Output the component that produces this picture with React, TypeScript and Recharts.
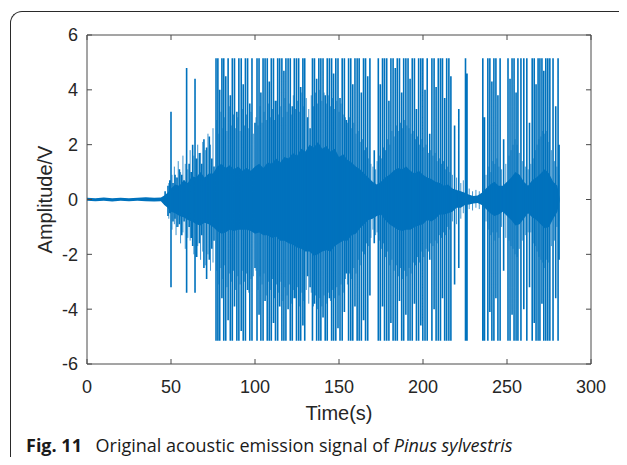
import React from 'react';
import { ComposedChart, Area, Line, XAxis, YAxis } from 'recharts';

const CLIP = 5.15;
const X_TICKS = [0, 50, 100, 150, 200, 250, 300];
const Y_TICKS = [-6, -4, -2, 0, 2, 4, 6];

// dense core of the signal (envelope of the continuous activity)
const coreTimes = [
  0, 5, 10, 15, 20, 25, 30, 35, 40, 44,
  46, 48, 50, 52.5, 55, 57.5, 60, 62.5, 65, 67.5,
  70, 72.5, 75, 77.5, 80, 82.5, 85, 87.5, 90, 92.5,
  95, 97.5, 100, 102.5, 105, 107.5, 110, 112.5, 115, 117.5,
  120, 122.5, 125, 127.5, 130, 132.5, 135, 137.5, 140, 142.5,
  145, 147.5, 150, 152.5, 155, 157.5, 160, 162.5, 165, 167.5,
  170, 172.5, 175, 177.5, 180, 182.5, 185, 187.5, 190, 192.5,
  195, 197.5, 200, 202.5, 205, 207.5, 210, 212.5, 215, 217.5,
  220, 222.5, 225, 227.5, 230, 232.5, 235, 237.5, 240, 242.5,
  245, 247.5, 250, 252.5, 255, 257.5, 260, 262.5, 265, 267.5,
  270, 272.5, 275, 277.5, 280, 281.3,
];
const coreHigh = [
  0.06, 0.05, 0.07, 0.05, 0.06, 0.05, 0.06, 0.08, 0.06, 0.07,
  0.15, 0.25, 0.4, 0.55, 0.5, 0.7, 0.6, 0.85, 0.8, 1.0,
  0.8, 0.95, 0.95, 1.2, 1.3, 1.15, 1.25, 1.1, 1.2, 1.05,
  1.15, 1.05, 1.2, 1.3, 1.15, 1.35, 1.3, 1.5, 1.35, 1.55,
  1.5, 1.7, 1.6, 1.85, 1.75, 2.0, 1.9, 2.1, 1.85, 1.95,
  1.75, 1.85, 1.55, 1.65, 1.45, 1.35, 1.2, 1.1, 0.95, 0.8,
  0.65, 0.55, 0.65, 0.8, 0.9, 1.05, 1.15, 1.1, 1.2, 1.05,
  0.95, 1.05, 0.9, 0.8, 0.75, 0.65, 0.6, 0.5, 0.55, 0.4,
  0.35, 0.3, 0.25, 0.17, 0.13, 0.15, 0.25, 0.4, 0.55, 0.65,
  0.5, 0.5, 0.65, 0.8, 1.0, 0.9, 0.65, 0.5, 0.7, 0.8,
  0.95, 1.1, 0.95, 0.65, 0.5, 0.05,
];
const coreLow = [
  -0.05, -0.06, -0.05, -0.07, -0.05, -0.06, -0.05, -0.06, -0.07, -0.06,
  -0.2, -0.3, -0.45, -0.5, -0.6, -0.65, -0.75, -0.8, -0.9, -0.95,
  -0.85, -0.9, -1.0, -1.15, -1.25, -1.2, -1.1, -1.15, -1.1, -1.1,
  -1.1, -1.15, -1.25, -1.2, -1.3, -1.3, -1.4, -1.35, -1.5, -1.5,
  -1.6, -1.65, -1.75, -1.8, -1.9, -1.9, -2.05, -2.0, -1.9, -1.85,
  -1.9, -1.7, -1.6, -1.5, -1.5, -1.3, -1.25, -1.05, -0.9, -0.75,
  -0.7, -0.6, -0.55, -0.75, -0.9, -1.0, -1.1, -1.15, -1.1, -1.1,
  -1.0, -0.95, -0.9, -0.75, -0.8, -0.7, -0.55, -0.55, -0.5, -0.45,
  -0.3, -0.3, -0.2, -0.18, -0.15, -0.13, -0.2, -0.35, -0.5, -0.6,
  -0.55, -0.45, -0.6, -0.75, -0.95, -0.9, -0.7, -0.5, -0.65, -0.75,
  -0.9, -1.05, -1.0, -0.7, -0.45, -0.05,
];

// large bursts: time, positive peak, negative peak
const spikeTimes = [
  46.5, 48.2, 49.3, 50.0, 51.2, 52.4, 53.6, 55.0, 56.4, 57.8, 59.3, 60.8, 62.0, 62.9, 64.3, 65.3, 66.9, 68.3, 69.6, 71.2, 72.8, 74.3, 75.6,
  76.8, 77.9, 79.0, 80.3, 81.4, 82.6, 84.0, 85.3, 86.5, 87.8, 89.2, 90.4, 91.8, 93.0, 94.3, 95.6, 96.9, 98.2, 100.0,
  101.2, 102.4, 103.5, 104.8, 106.0, 107.3, 108.5, 109.7, 111.0, 112.2, 113.5, 114.7, 116.0, 117.2, 118.4, 119.7, 121.0, 122.2, 123.4, 124.7, 126.0, 127.2, 128.5, 129.6, 131.3, 132.8,
  134.2, 135.4, 136.7, 138.0, 139.2, 140.5, 141.8, 143.0, 144.3, 145.6, 146.8, 148.1, 149.4, 150.6, 151.9, 153.2, 154.4, 155.7, 157.0, 158.2, 159.5, 160.8, 162.0, 163.3, 164.6, 165.8, 167.1, 168.4, 171.0,
  173.4, 174.6, 175.9, 177.1, 178.4, 179.7, 180.9, 182.2, 183.5, 184.7, 186.0, 187.3, 188.5, 189.8, 191.1, 192.3, 193.6, 194.9, 196.1, 197.4, 198.7, 199.9, 201.2, 202.5, 204.0,
  205.3, 206.6, 207.8, 209.1, 210.4, 211.6, 212.9, 214.1, 215.4, 216.6,
  218.8, 221.3, 225.3, 226.2, 235.6, 236.6,
  238.6, 239.8, 241.0, 242.2, 243.4, 244.6, 245.9, 248.0,
  250.6, 251.8, 253.0, 254.2, 255.4, 256.5, 258.3, 260.0, 261.8, 263.4,
  265.0, 266.2, 267.3, 268.5, 269.6, 270.8, 271.9, 273.1, 274.3, 275.5, 277.4, 279.0, 280.4, 281.0,
];
const spikeHighs = [
  0.3, 0.5, 0.7, 3.2, 0.6, 0.9, 0.8, 1.1, 0.9, 0.7, 4.8, 1.3, 1.0, 2.0, 4.4, 1.5, 1.7, 1.3, 2.2, 1.9, 2.3, 1.5, 1.2,
  CLIP, CLIP, 4.0, CLIP, CLIP, 4.5, CLIP, 3.8, CLIP, CLIP, 3.2, CLIP, CLIP, 4.2, CLIP, CLIP, 3.5, CLIP, 2.8,
  CLIP, CLIP, 3.9, CLIP, CLIP, CLIP, 4.3, CLIP, CLIP, 3.6, CLIP, CLIP, CLIP, 4.7, CLIP, CLIP, CLIP, 3.4, CLIP, CLIP, CLIP, 4.1, CLIP, CLIP, 3.0, 2.6,
  CLIP, CLIP, 4.4, CLIP, CLIP, CLIP, 3.8, CLIP, CLIP, CLIP, 4.6, CLIP, CLIP, 3.7, CLIP, CLIP, 2.9, CLIP, CLIP, 4.2, CLIP, CLIP, CLIP, 3.9, CLIP, CLIP, 4.5, CLIP, 1.8,
  CLIP, 4.2, CLIP, CLIP, CLIP, 3.6, CLIP, CLIP, 4.8, CLIP, CLIP, 3.9, CLIP, CLIP, CLIP, 4.4, CLIP, CLIP, 3.3, CLIP, CLIP, CLIP, 4.0, CLIP, 2.4,
  CLIP, CLIP, 4.1, CLIP, CLIP, CLIP, 3.7, CLIP, CLIP, 4.5,
  2.7, 3.3, CLIP, 4.6, CLIP, 3.0,
  CLIP, CLIP, 4.3, CLIP, CLIP, 3.8, CLIP, 2.2,
  CLIP, 4.4, CLIP, CLIP, 3.9, CLIP, CLIP, CLIP, CLIP, 2.8,
  CLIP, CLIP, 4.2, CLIP, CLIP, CLIP, 4.7, CLIP, CLIP, CLIP, CLIP, 3.4, CLIP, 2.0,
];
const spikeLows = [
  -0.2, -0.6, -0.5, -3.2, -0.8, -0.7, -1.0, -0.9, -1.3, -0.8, -3.4, -1.0, -1.4, -1.7, -3.4, -2.1, -1.6, -1.3, -2.5, -2.9, -2.2, -1.8, -1.5,
  -CLIP, -CLIP, -CLIP, -3.6, -CLIP, -CLIP, -4.4, -CLIP, -CLIP, -3.9, -CLIP, -CLIP, -4.8, -CLIP, -CLIP, -3.3, -CLIP, -CLIP, -2.5,
  -CLIP, -4.2, -CLIP, -CLIP, -3.7, -CLIP, -CLIP, -CLIP, -4.5, -CLIP, -CLIP, -3.9, -CLIP, -CLIP, -CLIP, -4.0, -CLIP, -CLIP, -3.6, -CLIP, -CLIP, -CLIP, -4.6, -CLIP, -2.8, -3.2,
  -CLIP, -3.8, -CLIP, -CLIP, -CLIP, -4.3, -CLIP, -CLIP, -3.6, -CLIP, -CLIP, -CLIP, -4.7, -CLIP, -CLIP, -4.1, -2.7, -CLIP, -CLIP, -CLIP, -3.9, -CLIP, -CLIP, -CLIP, -4.4, -CLIP, -CLIP, -3.5, -1.6,
  -CLIP, -CLIP, -3.9, -CLIP, -CLIP, -CLIP, -4.5, -CLIP, -CLIP, -CLIP, -3.7, -CLIP, -CLIP, -4.2, -CLIP, -CLIP, -CLIP, -3.8, -CLIP, -CLIP, -4.6, -CLIP, -CLIP, -CLIP, -2.2,
  -CLIP, -4.0, -CLIP, -CLIP, -CLIP, -3.6, -CLIP, -CLIP, -CLIP, -CLIP,
  -3.1, -2.5, -CLIP, -CLIP, -CLIP, -CLIP,
  -CLIP, -4.1, -CLIP, -CLIP, -3.6, -CLIP, -CLIP, -2.6,
  -CLIP, -CLIP, -4.2, -CLIP, -CLIP, -CLIP, -CLIP, -4.0, -CLIP, -3.2,
  -CLIP, -4.5, -CLIP, -CLIP, -CLIP, -3.8, -CLIP, -CLIP, -CLIP, -CLIP, -CLIP, -3.6, -CLIP, -2.2,
];

// medium bursts that fray the edge of the core
const midTimes = [
  48.7, 50.6, 52.0, 53.0, 54.3, 55.7, 57.1, 58.5, 60.0, 61.4,
  63.6, 65.9, 67.6, 68.9, 70.4, 72.0, 73.5, 75.0, 77.3, 78.5,
  79.7, 80.9, 82.0, 83.3, 84.7, 85.9, 87.2, 88.5, 89.8, 91.1,
  92.4, 93.7, 95.0, 96.3, 97.6, 99.0, 100.6, 101.8, 103.0, 104.2,
  105.4, 106.7, 107.9, 109.1, 110.4, 111.6, 112.9, 114.1, 115.4, 116.6,
  117.8, 119.1, 120.4, 121.6, 122.8, 124.1, 125.4, 126.6, 127.9, 129.0,
  130.5, 132.0, 133.5, 134.8, 136.0, 137.3, 138.6, 139.8, 141.1, 142.4,
  143.6, 144.9, 146.2, 147.4, 148.7, 150.0, 151.2, 152.5, 153.8, 155.0,
  156.3, 157.6, 158.8, 160.1, 161.4, 162.6, 163.9, 165.2, 166.4, 167.7,
  169.0, 170.2, 171.8, 172.7, 174.0, 175.2, 176.5, 177.7, 179.0, 180.3,
  181.5, 182.8, 184.1, 185.3, 186.6, 187.9, 189.1, 190.4, 191.7, 192.9,
  194.2, 195.5, 196.7, 198.0, 199.3, 200.5, 201.8, 203.2, 204.6, 205.9,
  207.2, 208.4, 209.7, 211.0, 212.2, 213.5, 214.7, 216.0, 217.5, 220.0,
  222.5, 224.0, 227.5, 229.5, 231.5, 233.5, 237.5, 239.2, 240.4, 241.6,
  242.8, 244.0, 245.2, 246.8, 249.3, 251.2, 252.4, 253.6, 254.8, 256.0,
  257.3, 259.1, 260.9, 262.6, 264.2, 265.6, 266.8, 267.9, 269.0, 270.2,
  271.3, 272.5, 273.7, 274.9, 276.4, 278.2, 279.7, 280.8,
];
const midHighs = [
  0.6, 0.9, 1.2, 0.8, 1.4, 1.0, 1.6, 1.3, 1.1, 1.8,
  1.6, 2.0, 1.7, 2.1, 1.8, 2.4, 2.0, 2.6, 2.9, 2.4,
  3.2, 2.6, 3.0, 2.5, 3.4, 2.7, 3.1, 2.6, 3.0, 2.5,
  3.3, 2.7, 3.1, 2.6, 3.2, 2.4, 3.0, 2.7, 3.4, 2.8,
  3.2, 2.9, 3.5, 3.0, 3.3, 2.9, 3.6, 3.1, 3.4, 3.0,
  3.7, 3.2, 3.5, 3.1, 3.8, 3.3, 3.6, 3.2, 3.9, 3.4,
  3.7, 3.3, 3.8, 3.4, 3.9, 3.5, 4.0, 3.6, 3.9, 3.5,
  3.8, 3.4, 3.7, 3.3, 3.6, 3.2, 3.5, 3.1, 3.0, 2.8,
  3.0, 2.6, 2.8, 2.4, 2.5, 2.1, 2.2, 1.8, 1.9, 1.5,
  1.3, 1.2, 1.1, 1.4, 1.6, 1.5, 1.9, 1.8, 2.2, 2.0,
  2.5, 2.3, 2.7, 2.5, 2.8, 2.6, 2.9, 2.7, 2.6, 2.4,
  2.5, 2.2, 2.3, 2.0, 2.2, 1.9, 2.0, 1.7, 1.8, 1.6,
  1.7, 1.4, 1.5, 1.3, 1.4, 1.1, 1.2, 1.0, 0.9, 0.8,
  0.6, 0.7, 0.4, 0.3, 0.35, 0.3, 0.9, 1.2, 1.0, 1.4,
  1.3, 1.5, 1.2, 1.1, 1.3, 1.6, 1.8, 2.0, 2.2, 2.0,
  1.7, 1.4, 1.2, 1.1, 1.3, 1.5, 1.8, 2.0, 2.2, 2.3,
  2.5, 2.4, 2.5, 2.1, 1.8, 1.4, 1.2, 0.9,
];
const midLows = [
  -0.7, -1.1, -0.9, -1.3, -1.0, -1.6, -1.2, -1.8, -1.4, -1.5,
  -2.0, -1.7, -2.2, -1.9, -2.4, -2.0, -2.6, -2.3, -2.6, -3.1,
  -2.5, -2.9, -2.4, -3.2, -2.7, -3.0, -2.6, -3.3, -2.8, -3.1,
  -2.6, -3.0, -2.7, -3.4, -2.9, -2.8, -2.6, -3.3, -2.8, -3.1,
  -2.7, -3.5, -3.0, -3.3, -2.9, -3.6, -3.1, -3.4, -3.0, -3.7,
  -3.2, -3.5, -3.1, -3.8, -3.3, -3.6, -3.2, -3.9, -3.4, -3.7,
  -3.3, -3.8, -3.4, -3.9, -3.5, -4.0, -3.6, -3.9, -3.5, -3.8,
  -3.4, -3.7, -3.3, -3.6, -3.2, -3.5, -3.1, -3.4, -2.9, -3.1,
  -2.7, -2.9, -2.5, -2.7, -2.2, -2.4, -1.9, -2.0, -1.6, -1.7,
  -1.4, -1.1, -1.3, -1.2, -1.5, -1.8, -1.6, -2.1, -1.9, -2.4,
  -2.2, -2.6, -2.4, -2.8, -2.5, -2.9, -2.6, -2.8, -2.5, -2.7,
  -2.3, -2.4, -2.1, -2.3, -1.9, -2.1, -1.8, -1.9, -1.6, -1.7,
  -1.5, -1.6, -1.3, -1.4, -1.2, -1.3, -1.0, -1.1, -0.8, -0.9,
  -0.7, -0.5, -0.35, -0.4, -0.3, -0.35, -0.8, -1.1, -1.3, -1.2,
  -1.5, -1.2, -1.4, -1.0, -1.4, -1.5, -1.7, -1.8, -2.0, -2.1,
  -1.8, -1.5, -1.3, -1.2, -1.2, -1.6, -1.7, -1.9, -2.1, -2.2,
  -2.3, -2.5, -2.2, -2.3, -1.7, -1.5, -1.0, -0.8,
];

const coreData = coreTimes.map((t, i) => ({ t, band: [coreLow[i], coreHigh[i]] }));

// each burst is a vertical segment; null breaks the line between bursts
const toSegments = (times: number[], highs: number[], lows: number[]) => {
  const out: { t: number; v: number | null }[] = [];
  times.forEach((t, i) => {
    out.push({ t, v: highs[i] });
    out.push({ t, v: lows[i] });
    out.push({ t, v: null });
  });
  return out;
};
const spikeData = toSegments(spikeTimes, spikeHighs, spikeLows);
const midData = toSegments(midTimes, midHighs, midLows);

const AXIS = '#4a4a4a';
const TEXT = '#262626';
const FONT = '"Liberation Sans", Arial, sans-serif';
const BLUE = '#0072BD';
const TICK_LEN = 5;

const BottomTick = (props: any) => {
  const { x, y, payload } = props;
  const axisY = y - 16;
  return (
    <g>
      <line x1={x} x2={x} y1={axisY} y2={axisY - TICK_LEN} stroke={AXIS} />
      <text x={x} y={y} dy="0.71em" textAnchor="middle" fill={TEXT} fontSize={18} fontFamily={FONT}>{payload.value}</text>
    </g>
  );
};
const TopTick = (props: any) => {
  const { x, y } = props;
  return <line x1={x} x2={x} y1={y} y2={y + TICK_LEN} stroke={AXIS} />;
};
const LeftTick = (props: any) => {
  const { x, y, payload } = props;
  const axisX = x + 9;
  return (
    <g>
      <line x1={axisX} x2={axisX + TICK_LEN} y1={y} y2={y} stroke={AXIS} />
      <text x={x} y={y} dy="0.355em" textAnchor="end" fill={TEXT} fontSize={18} fontFamily={FONT}>{payload.value}</text>
    </g>
  );
};
const RightTick = (props: any) => {
  const { x, y } = props;
  return <line x1={x} x2={x - TICK_LEN} y1={y} y2={y} stroke={AXIS} />;
};

export default function App() {
  return (
    <div style={{ position: 'relative', width: 627, height: 465, margin: -8, background: '#fff', overflow: 'hidden' }}>
      <div style={{ position: 'absolute', left: 10, top: 11, width: 630, height: 470, borderTop: '1.3px solid #2a2a2a', borderLeft: '1.3px solid #2a2a2a', borderTopLeftRadius: 12 }} />
      <div style={{ position: 'absolute', left: 0, top: 0 }}>
        <ComposedChart width={627} height={465} margin={{ top: 34, right: 35, bottom: 41, left: 27 }}>
          <XAxis xAxisId="b" dataKey="t" type="number" domain={[0, 300]} ticks={X_TICKS} interval={0}
            height={60} tickSize={0} tickMargin={16} tick={BottomTick} stroke={AXIS}
            label={{ value: 'Time(s)', position: 'insideBottom', offset: 4, fontSize: 20, fill: TEXT, fontFamily: FONT }} />
          <XAxis xAxisId="t" dataKey="t" type="number" orientation="top" domain={[0, 300]} ticks={X_TICKS} interval={0}
            height={1} tickSize={0} tickMargin={0} tick={TopTick} stroke={AXIS} />
          <YAxis yAxisId="l" type="number" domain={[-6, 6]} ticks={Y_TICKS} interval={0}
            width={60} tickSize={0} tickMargin={9} tick={LeftTick} stroke={AXIS}
            label={{ value: 'Amplitude/V', angle: -90, position: 'insideLeft', offset: 18, fontSize: 20, fill: TEXT, fontFamily: FONT, style: { textAnchor: 'middle' } }} />
          <YAxis yAxisId="r" type="number" orientation="right" domain={[-6, 6]} ticks={Y_TICKS} interval={0}
            width={1} tickSize={0} tickMargin={0} tick={RightTick} stroke={AXIS} />
          <Area data={coreData} dataKey="band" xAxisId="t" yAxisId="r" type="linear" stroke="none"
            fill={BLUE} fillOpacity={1} isAnimationActive={false} />
          <Line data={midData} dataKey="v" xAxisId="b" yAxisId="l" type="linear" stroke={BLUE}
            strokeWidth={1} strokeOpacity={0.75} dot={false} connectNulls={false} isAnimationActive={false} />
          <Line data={spikeData} dataKey="v" xAxisId="b" yAxisId="l" type="linear" stroke={BLUE}
            strokeWidth={1.6} dot={false} connectNulls={false} isAnimationActive={false} />
        </ComposedChart>
      </div>
      <div style={{ position: 'absolute', left: 26, top: 436, fontFamily: '"Open Sans", sans-serif', fontSize: 18, lineHeight: '18px', color: '#1a1a1a', whiteSpace: 'nowrap' }}>
        <span style={{ fontWeight: 700, marginRight: 9 }}>Fig. 11</span> Original acoustic emission signal of <i>Pinus sylvestris</i>
      </div>
    </div>
  );
}
